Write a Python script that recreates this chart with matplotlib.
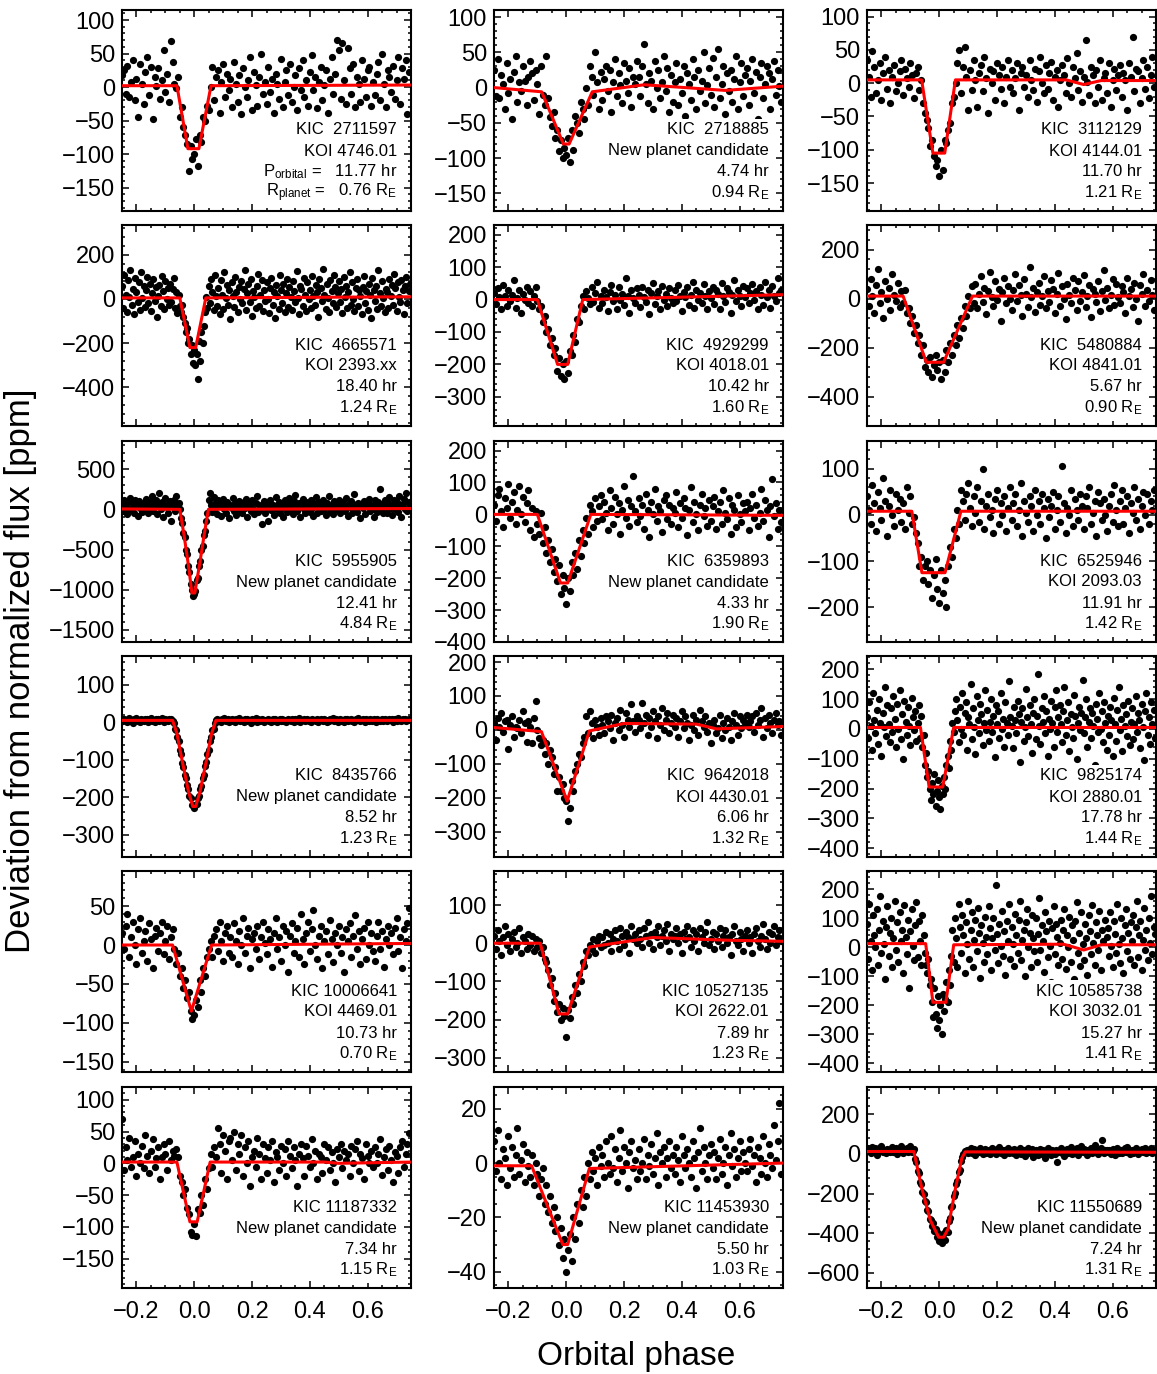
import numpy as np
import matplotlib.pyplot as plt
from matplotlib.ticker import MultipleLocator, AutoMinorLocator

plt.rcParams['font.family'] = ['Liberation Sans', 'DejaVu Sans']
plt.rcParams['mathtext.fontset'] = 'custom'
plt.rcParams['mathtext.rm'] = 'Liberation Sans'
plt.rcParams['mathtext.it'] = 'Liberation Sans:italic'
plt.rcParams['mathtext.bf'] = 'Liberation Sans:bold'

# ---- labels for the 18 targets (row by row) ----
kic = ['2711597', '2718885', '3112129', '4665571', '4929299', '5480884',
       '5955905', '6359893', '6525946', '8435766', '9642018', '9825174',
       '10006641', '10527135', '10585738', '11187332', '11453930', '11550689']
koi = ['KOI 4746.01', 'New planet candidate', 'KOI 4144.01', 'KOI 2393.xx', 'KOI 4018.01', 'KOI 4841.01',
       'New planet candidate', 'New planet candidate', 'KOI 2093.03', 'New planet candidate', 'KOI 4430.01', 'KOI 2880.01',
       'KOI 4469.01', 'KOI 2622.01', 'KOI 3032.01', 'New planet candidate', 'New planet candidate', 'New planet candidate']
period_hr = ['11.77', '4.74', '11.70', '18.40', '10.42', '5.67', '12.41', '4.33', '11.91',
             '8.52', '6.06', '17.78', '10.73', '7.89', '15.27', '7.34', '5.50', '7.24']
radius_re = ['0.76', '0.94', '1.21', '1.24', '1.60', '0.90', '4.84', '1.90', '1.42',
             '1.23', '1.32', '1.44', '0.70', '1.23', '1.41', '1.15', '1.03', '1.31']

# ---- folded, binned flux [ppm]; evenly spaced in phase from -0.25 to 0.75 ----
f01 = [18, 25, -10, 32, -15, 8, 40, -20, 12, -45, 35, 5, -25, 22, 45, -12, 30, -48, 15, 2,
       28, -18, 10, 55, -8, 20, -22, 68, 38, 5, -2, 15, -44, -30, -60, -72, -85, -125, -88, -108,
       -100, -78, -118, -72, -82, -45, -50, -28, -35, 0, 30, -20, 15, 25, -38, 8, 35, -15, 20, -5,
       12, -30, 38, 5, -22, 18, -40, 28, 0, -15, 10, 45, -35, 22, 3, -28, 15, 50, -10, 8,
       -25, 30, -8, 12, -38, 20, 5, -18, 42, -30, 8, 25, -12, 35, -22, 0, 18, -35, 28, -5,
       40, -15, 10, -28, 22, 48, -5, 15, -32, 8, 30, -20, 3, 25, -38, 12, 45, -10, 20, 70,
       55, -18, 65, 10, -25, 58, 28, -10, 35, -30, 15, 5, -22, 40, 12, -15, 25, 30, -28, 8,
       -12, 20, 38, -20, 50, 5, -30, 25, 15, -8, 32, -18, 10, 45, -25, 28, 12, 40, -40, 22]
f02 = [25, -12, 40, -15, 18, 5, -30, 35, -8, 12, -45, 22, 45, -20, 8, -5, 30, 10, -25, 15,
       38, 20, -18, 25, 5, -38, 30, -10, -25, 45, -15, -42, -55, -35, -72, -60, -90, -75, -100, -85,
       -95, -72, -105, -60, -88, -40, -50, -65, -20, -30, -45, 0, -25, 30, 15, -10, 50, 8, -30, 22,
       -18, 12, 30, -5, 25, -35, 8, 40, -12, 20, 3, -22, 35, 10, -8, 28, -28, 15, 5, 38,
       15, -12, 30, 62, 5, -22, 20, 10, -30, 38, 0, 25, -15, 8, 45, -5, 28, -35, 18, -20,
       8, 35, -25, 12, -8, 30, -40, 20, 5, -18, 40, 15, -30, 25, -5, 10, 50, -22, 3, 28,
       -10, 42, -28, 15, 55, -15, 5, 30, -38, 20, -5, 25, -20, 12, 45, -30, 8, 35, -12, 18,
       28, -25, 10, 40, -8, 22, -45, 15, 35, -15, 5, 30, 20, -30, 12, 38, -10, 25, 2, -20]
f03 = [35, 10, -20, 48, 25, -15, 5, 30, -25, 15, 40, -8, 20, -30, 10, 28, -12, 0, 18, 35,
       -18, 22, 8, -5, 30, 12, -22, 15, 25, -10, 5, -30, -45, -55, -68, -95, -85, -110, -125, -115,
       -140, -100, -130, -85, -90, -70, -60, -30, -20, 0, 30, 50, -15, 25, 55, 10, -40, 20, -10, 35,
       5, -35, 15, 28, -12, 40, 8, -45, 22, 0, 18, -25, 30, 12, -8, 25, -30, 10, 35, -5,
       20, -15, 8, 30, -40, 15, 25, -5, 12, -20, 35, 5, -10, 22, -28, 18, 40, 0, -15, 28,
       -8, 15, 32, -25, 10, 20, -35, 5, 28, 12, -15, 38, 0, -20, 25, 8, 45, -10, 18, -28,
       10, 65, 2, -18, 25, 12, -30, 20, -5, 35, -25, 8, 15, -15, 30, -35, 5, 22, -10, 12,
       28, -20, 15, 5, -40, 30, 10, 70, -12, 22, 18, -30, 8, 35, -8, 25, -22, 12, 40, -5]
f04 = [60, -40, 110, 20, -60, 85, 10, 130, -25, 45, -70, 95, 30, -15, 75, -50, 120, 5, 60, -35,
       40, 100, -20, 70, -55, 25, 90, -10, 55, -80, 15, 65, -30, 105, 35, -45, 80, 0, 50, -25,
       70, -15, 45, 95, -40, 30, -65, 20, -30, -60, -25, -80, -110, -150, -130, -200, -180, -250, -210, -290,
       -230, -300, -250, -360, -190, -280, -150, -200, -120, -60, 10, -40, 60, -20, 90, 30, -50, 110, 15, -30,
       50, -70, 85, 20, -45, 120, 5, 65, -25, 40, -90, 75, 15, -35, 100, 30, -60, 55, 0, 80,
       -20, 45, 130, -50, 25, 70, -15, 90, -75, 35, 10, -40, 60, 115, -30, 20, 85, -55, 40, -10,
       75, 0, -65, 50, 95, -25, 30, -85, 65, 15, -45, 110, 40, -20, 70, -60, 25, 90, -35, 55,
       10, -50, 80, 35, -15, 125, 5, -70, 60, 45, -30, 95, 20, -55, 75, 0, 40, -40, 105, 15,
       -25, 65, 30, -80, 90, 50, -10, 135, 20, -45, 70, 5, -60, 85, 35, -20, 110, 55, -35, 25,
       80, -15, 45, -65, 100, 10, 60, -40, 30, 120, -25, 75, 0, -55, 50, 90, -30, 40, 15, -70,
       55, 105, -20, 35, -50, 70, 20, -85, 95, 40, -10, 60, -45, 130, 25, -30, 80, 5, -60, 45,
       30, -40, 90, 15, 65, -25, 115, 50, -55, 75, 10, -15, 85, 40, -70, 60, 100, -20, 35, 70]
f05 = [20, -15, 35, 8, -30, 45, 10, -20, 28, -5, 15, 60, -25, 5, 30, -40, 18, 0, 40, -10,
       25, -20, 10, 38, -5, -30, -20, -70, -50, -100, -90, -140, -120, -170, -150, -220, -180, -235, -200, -245,
       -190, -225, -160, -170, -110, -130, -60, -70, -20, 10, -30, 25, 5, -15, 40, -8, 20, 55, -25, 12,
       -10, 30, 8, -35, 22, 45, -5, 15, -28, 38, 0, 18, -18, 65, 10, -40, 28, 5, -12, 35,
       15, -22, 40, 8, -8, 30, -45, 20, 50, -15, 10, 25, -30, 42, 0, 18, -20, 35, 5, -10,
       28, -5, 45, 12, -35, 22, 8, 38, -18, 15, 55, -25, 30, 0, 20, -12, 48, 10, -30, 25,
       5, 40, -15, 30, 18, -28, 50, 12, -8, 35, 22, -40, 15, 60, -5, 28, 10, -20, 42, 8,
       35, -12, 20, 48, 0, 25, -30, 38, 15, -18, 55, 8, 30, -25, 42, 12, -5, 65, 20, 30]
f06 = [40, -30, 80, 10, -60, 55, 120, -20, 25, -80, 70, 0, 45, -45, 100, 15, -10, 65, -35, 30,
       -20, 35, -60, -40, -100, -70, -140, -110, -180, -150, -230, -190, -280, -250, -300, -240, -320, -270, -230, -290,
       -260, -330, -250, -300, -210, -260, -180, -230, -150, -190, -110, -160, -80, -120, -30, -70, 10, -40, 50, -20,
       60, -40, 20, 90, -15, 45, -65, 30, 110, 5, -30, 70, -5, 40, -90, 25, 85, -20, 50, 0,
       -45, 35, 100, -10, 55, 15, -70, 80, 20, -35, 130, 5, 45, -55, 25, 65, -25, 10, 90, -40,
       30, -15, 75, 40, -60, 20, 105, -30, 50, 0, -85, 60, 15, -20, 85, 35, -45, 70, -10, 25,
       95, -35, 10, 55, -75, 40, 20, -15, 70, -50, 30, 115, -5, 45, -40, 15, 80, -25, 60, 5,
       -20, 50, 25, -60, 85, 10, 40, -35, 65, 0, -90, 55, 20, 100, -30, 35, -10, 75, 15, -45]
f07 = [60, -20, 110, 30, -60, 90, 10, 140, -10, 70, -40, 120, 40, -80, 100, 20, 50, -30, 80, 0,
       130, 40, -50, 90, 20, 160, -20, 70, 110, -60, 50, 200, 10, 90, -100, 60, 140, 30, -40, 80,
       100, -150, 60, 120, -20, 170, 40, 80, 10, -110, -170, -300, -350, -500, -560, -700, -780, -930, -1000, -1080,
       -1050, -1010, -880, -850, -700, -640, -500, -460, -320, -270, -150, -40, 120, 200, 60, -30, 150, 20, 90, -60,
       110, 40, -80, 70, 130, 0, -40, 90, 50, -110, 60, 20, 140, -20, 80, -70, 30, 100, -10, 60,
       -50, 90, 20, 130, -90, 40, 70, -20, 110, 10, -60, 80, 170, -30, 50, 0, -180, 60, 100, -40,
       30, -150, 80, 120, -10, 60, -70, 40, 150, 0, 90, -40, 70, 20, -100, 110, 30, -30, 80, 140,
       10, 60, -60, 100, 180, -20, 40, 80, -90, 50, 130, 0, -50, 90, 30, 60, -30, 110, 20, -80,
       70, 150, -40, 30, 90, -20, 60, 120, 0, -70, 80, 40, 170, -30, 50, -60, 100, 10, 70, -10,
       120, -50, 40, 90, 10, -20, 140, 60, -80, 30, 100, -40, 70, 190, 20, -30, 80, 50, -110, 60,
       20, 100, -60, 80, 40, 130, -20, 60, 10, -90, 110, 50, -30, 90, 250, 0, 70, -50, 120, 30,
       -40, 80, 150, 20, -70, 60, 110, 0, 90, -30, 160, 40, -100, 70, 130, 10, 200, -20, 90, 50]
f08 = [30, -20, 60, 80, 10, -40, 50, 20, 95, -10, 40, 70, -30, 15, 90, 0, 55, -25, 35, 75,
       -50, 20, -70, 10, -30, -60, 5, -90, -40, -120, -80, -150, -110, -180, -140, -210, -160, -250, -190, -230,
       -280, -200, -240, -150, -190, -120, -170, -80, -130, -50, -90, -10, -60, 30, 10, -40, 50, -20, 25, 60,
       -15, 40, 5, -50, 75, 20, -30, 55, 0, 35, -60, 15, 90, -10, 45, -35, 25, 120, 10, -25,
       50, -5, 30, -45, 65, 15, -70, 40, 0, 80, -20, 25, 10, -55, 45, 60, -15, 30, -30, 20,
       5, 70, -40, 35, -10, 50, 20, -65, 15, 85, -25, 40, 0, -50, 30, 65, -5, 20, -35, 45,
       -20, 25, 55, -45, 10, 40, -30, 75, 5, -15, 50, -60, 30, 15, -40, 60, 0, -25, 35, 10,
       40, -50, 20, 65, -10, 30, -35, 5, 80, -20, 45, 15, -70, 25, 110, -5, 35, -45, 15, -25]
f09 = [40, 10, -20, 65, 25, -35, 50, 15, -10, 80, 30, -45, 20, 55, 0, -25, 45, 10, 35, -15,
       25, -30, 60, 5, 40, -20, -5, -40, -60, -110, -90, -140, -110, -100, -150, -120, -180, -130, -95, -160,
       -190, -120, -170, -140, -200, -110, -70, -90, -30, -50, 10, -20, 55, 30, -10, 45, 70, 15, -25, 40,
       5, 60, -15, 30, 100, -30, 20, 45, -5, 10, -40, 35, 55, -20, 25, 0, 40, -35, 15, 60,
       -10, 25, 45, -25, 10, 70, -45, 30, 5, -15, 40, 20, -35, 55, 0, 30, -20, 45, 15, -50,
       35, -5, 20, 50, -30, 10, 40, -15, 105, 25, -40, 15, 0, 55, -25, 35, 10, -10, 45, 20,
       -30, 40, 15, 60, -20, 5, 30, -45, 50, 25, -10, 35, 0, -35, 20, 45, -15, 65, 10, -25,
       30, 55, -20, 15, 40, -40, 25, 5, 60, -10, 35, -30, 20, 50, 0, 45, -20, 30, 10, 55]
f10 = [8, 3, 10, 5, 0, 7, 12, 4, 6, -2, 9, 5, 11, 3, 7, 1, 8, 6, 4, 10,
       5, 9, 2, 7, 12, 4, 6, 0, 8, 5, 10, 3, 7, 11, 5, 2, 9, 6, 4, 8,
       6, 9, 4, -3, -18, -22, -40, -50, -74, -85, -108, -120, -142, -150, -168, -178, -197, -203, -220, -221,
       -230, -222, -219, -203, -197, -178, -170, -149, -140, -118, -107, -86, -73, -50, -40, -22, -17, -2, 5, 8,
       4, 7, 2, 9, 5, 11, 3, 6, 8, 0, 7, 10, 4, 6, 2, 9, 5, 12, 3, 7,
       6, 1, 8, 4, 10, 5, 7, -1, 9, 3, 6, 11, 2, 8, 5, 4, 9, 6, 0, 7,
       5, 10, 3, 7, 2, 8, 4, 9, 6, 1, 5, 8, 3, 10, 4, 7, 2, 6, 9, 5,
       3, 8, 6, 0, 9, 4, 7, 11, 2, 6, 5, 8, 3, 7, 10, 4, 6, 1, 8, 5,
       7, 4, 9, 2, 6, 10, 5, 3, 8, 6, 1, 7, 4, 9, 5, 11, 3, 6, 8, 2,
       6, 9, 4, 7, 1, 8, 5, 10, 3, 6, 9, 4, 7, 2, 8, 5, 12, 6, 3, 7,
       9, 5, 2, 8, 6, 4, 10, 7, 3, 8, 5, 1, 9, 6, 4, 7, 10, 3, 8, 5,
       4, 7, 10, 5, 8, 2, 6, 9, 4, 11, 7, 5, 3, 8, 6, 9, 4, 7, 10, 6]
f11 = [20, -30, 35, 10, 50, -5, 25, 30, -55, 15, 40, -20, 10, 5, 30, -10, 55, 20, -35, 25,
       10, -40, 35, 85, 0, -25, -45, -30, -70, -40, -100, -60, -80, -130, -110, -180, -140, -180, -160, -200,
       -210, -270, -230, -150, -180, -120, -100, -70, -80, -40, -20, 40, -10, 55, 20, -25, 30, 10, -15, 35,
       15, -10, 40, 25, 5, 45, -30, 20, 35, 0, 60, 15, -20, 50, 30, 10, 75, 25, -5, 40,
       30, 5, 80, 20, 45, -15, 35, 10, 55, 25, -25, 40, 15, 65, 0, 30, 50, -10, 20, 45,
       10, 35, -20, 25, 55, 5, 40, 20, -30, 15, 45, 0, 30, -15, 60, 25, 10, 40, -5, 20,
       -40, 15, 30, -10, 5, 45, -25, 20, 0, 35, 10, -30, 25, 50, 15, -15, 40, 5, 30, 20,
       45, 10, 25, 40, -5, 50, 15, 30, 65, -20, 35, 5, 45, 20, -10, 30, 50, 15, 25, -15]
f12 = [40, -30, 90, 10, -70, 120, 30, -15, 65, -50, 100, 20, -90, 55, 5, 140, -25, 80, 15, -45,
       70, -10, 110, 35, -60, 85, 0, 130, -35, 50, -100, 95, 25, -20, 75, 10, -55, 105, 40, -5,
       60, -40, 20, 80, -30, 45, -60, -20, -120, -80, -160, -140, -200, -240, -180, -220, -150, -260, -210, -170,
       -230, -270, -190, -220, -160, -200, -120, -90, -130, -40, -70, 20, -10, 60, 100, 30, -45, 75, 0, 120,
       -20, 55, 90, -70, 40, 15, 150, -35, 70, 5, -85, 110, 30, -15, 85, 50, -55, 20, 130, -5,
       65, -40, 25, 100, -10, 45, -95, 80, 15, 60, -30, 120, 0, 35, -60, 90, 20, -20, 160, 40,
       10, -65, 75, 30, -15, 95, 50, -110, 25, 70, -40, 5, 135, 40, -25, 80, 15, -80, 55, 100,
       -35, 45, 185, 10, -50, 70, 25, 110, -15, 60, -90, 35, 0, 95, 20, -60, 75, 130, -10, 40,
       80, 15, -45, 60, 140, -20, 30, 90, -75, 50, 5, -30, 115, 45, -100, 20, 75, -5, 55, 165,
       -15, 40, 100, -60, 25, 70, -30, 55, 10, -120, 85, 35, -10, 120, 0, 60, -45, 90, 20, -70,
       45, -20, 75, 30, -90, 105, 15, -40, 65, 140, -5, 35, -75, 80, 10, 50, -25, 95, -55, 25,
       70, -35, 15, 110, -10, 55, 30, -65, 85, 5, -105, 60, 120, -20, 40, -50, 90, 15, 65, -30]
f13 = [15, -5, 25, 40, -15, 10, 30, 0, -25, 20, 35, -10, 5, 18, -20, 28, 8, -30, 12, 22,
       -8, 15, 30, -12, 5, 25, -18, 10, 20, -5, -25, -10, -40, -30, -55, -45, -68, -60, -85, -95,
       -90, -70, -80, -45, -60, -30, -40, -15, -5, 5, -15, 12, 20, -8, 30, 5, -20, 15, 25, -10,
       10, -15, 28, 5, -25, 18, 0, 35, -10, 12, 22, -30, 8, 15, -5, 25, -18, 10, 30, 2,
       -12, 20, 8, -28, 15, 35, -5, 10, -20, 25, 0, 18, -35, 12, 28, -10, 5, 22, -15, 40,
       8, -25, 15, 30, -8, 20, 45, 0, -18, 12, 25, -30, 5, 18, -12, 32, 8, -22, 15, 0,
       25, -10, 10, -35, 20, 5, 28, -15, 12, 38, -5, 18, -25, 8, 22, -18, 30, 0, 15, -8,
       -20, 12, 30, -5, 18, -28, 8, 25, 0, 15, -12, 22, 35, -8, 10, -30, 20, 5, 28, 48]
f14 = [20, -15, 35, 5, -30, 15, 45, -5, 25, -20, 10, 30, -10, 0, 40, -25, 15, 5, -15, 25,
       -5, 20, -20, 10, -10, 5, -25, -10, -40, -50, -70, -110, -90, -150, -130, -180, -160, -200, -170, -190,
       -245, -175, -195, -140, -160, -110, -130, -80, -100, -50, -60, -20, -30, -5, -15, 10, -25, 5, 20, -10,
       15, -5, 30, 0, 25, -20, 10, 35, 5, -15, 40, 20, -5, 30, 15, -25, 45, 10, 25, 0,
       35, 10, -10, 40, 20, 55, 0, 25, -15, 30, 15, 45, -5, 20, 35, 5, 50, -20, 25, 10,
       20, 40, 0, 25, -25, 30, 10, 45, 15, -10, 35, 5, 25, -20, 40, 15, 0, 30, 55, -5,
       10, 30, -15, 25, 5, 40, -10, 20, 35, 0, 15, -30, 25, 45, 5, -5, 30, 10, -20, 20,
       35, 0, 15, -25, 25, 40, 5, -10, 20, 50, 10, -15, 30, 0, 25, 45, -5, 15, 35, 5]
f15 = [80, -40, 150, 20, -80, 110, 40, 0, 130, -60, 60, 175, -20, 90, 10, -110, 70, 140, -30, 50,
       100, -70, 30, 160, -10, 85, -50, 120, 20, 60, -90, 145, 35, -25, 95, -140, 55, 130, 5, -45,
       75, 155, -35, 90, 20, -60, 110, 40, -20, -60, -90, -40, -130, -110, -190, -240, -140, -230, -280, -170,
       -250, -200, -300, -160, -220, -180, -120, -190, -80, -130, -30, 60, -50, 100, 30, -70, 150, 70, -20, 110,
       40, -90, 85, 10, 160, -40, 60, 120, -70, 25, 95, -15, 135, 50, -105, 75, 15, -50, 105, 35,
       -25, 140, 65, -80, 30, 100, -10, 215, 45, -55, 80, 5, 125, -30, 55, -95, 90, 20, 150, -40,
       70, 10, -65, 115, 40, -20, 95, 160, -45, 25, 60, -100, 85, 130, 0, 50, -70, 110, 30, -15,
       100, -50, 45, 170, -10, 75, 20, -85, 120, 55, -35, 90, 5, -120, 65, 140, -25, 80, 35, -60,
       15, 95, -40, 60, 130, -75, 40, 0, 105, -50, 75, 25, -110, 90, 155, -20, 50, -65, 120, 10,
       -45, 80, 30, -95, 110, 55, -25, 145, 15, -60, 85, 40, -10, 125, -80, 60, 20, -130, 95, 35,
       65, -30, 120, 5, -70, 90, 45, -20, 150, 10, -55, 100, 30, -90, 75, 130, -15, 50, -40, 85,
       20, 110, -60, 70, 160, -35, 40, 90, -80, 25, 135, -10, 60, -45, 100, 15, 175, -25, 70, 45]
f16 = [70, -10, 25, 5, 40, -5, 10, 35, -20, 15, 0, 28, -8, 45, 12, -15, 20, 38, -5, 8,
       25, -25, 10, 30, 15, -10, 35, 5, 20, 12, 22, 10, -20, -30, -50, -40, -70, -80, -108, -112,
       -95, -115, -72, -78, -50, -65, -25, -40, -8, 15, -5, 25, 10, 55, 30, -15, 45, 20, -25, 35,
       40, 5, 50, -10, 30, 15, 45, -20, 25, 0, 35, -35, 10, 20, -5, 40, 15, -25, 30, 8,
       -15, 25, 5, 35, -30, 18, 10, -10, 28, 0, 22, -20, 35, 12, -8, 25, 5, -35, 15, 30,
       8, -20, 28, 12, -5, 38, 0, 20, -25, 15, 10, -15, 30, 5, 25, -10, 18, 0, -30, 22,
       10, 30, -8, 20, 5, 15, -20, 28, 0, 22, 35, -12, 15, 8, -25, 30, 12, 0, 20, -5,
       25, 0, 15, 38, -18, 10, 22, -10, 28, 5, -30, 18, 12, -15, 25, 35, -5, 15, 30, 48]
f17 = [8, -3, 12, 0, -6, 5, 2, -8, 10, -2, 6, -5, 3, 13, -4, 1, 7, -7, 4, -1,
       -5, 3, -8, 0, -4, -12, -6, -2, -15, -8, -18, -12, -22, -16, -25, -20, -30, -24, -35, -28,
       -40, -32, -26, -36, -20, -28, -15, -22, -10, -16, -5, -12, 0, -6, 4, -3, 2, -8, 6, -1,
       3, -5, 8, 0, -4, 10, -2, 5, -7, 2, 12, -3, 6, 0, -9, 4, 8, -2, 1, -6,
       5, -3, 0, 9, -6, 3, -1, 7, -4, 2, 11, -8, 4, 0, 6, -5, 2, 8, -2, 3,
       -4, 6, 1, -7, 10, 3, -2, 5, 0, -5, 8, 2, -9, 4, 13, -3, 6, 0, -6, 3,
       7, -2, 4, -6, 2, 9, -4, 0, 6, -8, 3, 11, -1, 5, -5, 2, 8, -3, 4, 0,
       -3, 5, 9, -1, 3, -7, 6, 2, -4, 10, 0, -5, 7, 3, -2, 14, 1, 8, 22, -4]
f18 = [30, 15, 25, 5, 35, 20, 10, 28, -5, 18, 30, 12, 40, 8, 22, 15, 3, 25, 18, 10,
       20, 35, 8, 15, 28, 0, 22, 12, 38, 18, 5, 25, 15, 30, 10, 20, 42, 8, 16, 25,
       -25, -40, -85, -95, -140, -150, -190, -200, -240, -245, -285, -290, -330, -335, -365, -350, -390, -380, -420, -400,
       -440, -410, -450, -425, -400, -435, -385, -395, -340, -325, -270, -265, -210, -195, -150, -135, -90, -80, -35, -15,
       0, 15, 8, 22, 5, 18, 28, 2, 12, 25, -5, 15, 20, 8, 30, 10, 0, 18, 25, 5,
       12, 22, -2, 15, 28, 8, 18, 0, 25, 12, 35, 5, 15, 20, -8, 22, 10, 30, 5, 15,
       18, 2, 25, 10, -5, 20, 12, 28, 0, 15, 22, -10, 8, 18, 30, 5, 15, 25, -15, 12,
       20, 8, -5, 15, 25, 0, 18, 10, -20, 12, 28, 5, 15, -8, 22, 10, 0, 18, -40, 8,
       15, 28, 2, 20, -10, 12, 25, 5, 18, 35, 0, 15, 22, 8, 30, -5, 12, 20, 40, 10,
       25, 10, 18, -5, 22, 15, 30, 2, 12, 45, 8, 20, 0, 15, 28, 70, 12, 5, 22, 18,
       8, 20, 15, 0, 25, 12, -8, 18, 30, 5, 15, 22, 2, 12, 28, 8, 35, 18, 0, 15,
       22, 5, 15, 28, 10, 0, 20, 12, 25, 8, 18, 30, 2, 15, 22, 10, 28, 5, 18, 12]

# ---- transit model: (phase, flux) vertices ----
m01 = ([-0.25, -0.06, -0.022, 0.016, 0.058, 0.75], [2, 2, -92, -92, 2, 3])
m02 = ([-0.25, -0.085, -0.01, 0.01, 0.09, 0.27, 0.55, 0.75], [0, -6, -80, -80, -6, 4, -4, 2])
m03 = ([-0.25, -0.061, -0.022, 0.019, 0.056, 0.44, 0.5, 0.56, 0.75], [5, 5, -105, -105, 5, 5, -2, 4, 4])
m04 = ([-0.25, -0.05, -0.015, 0.005, 0.04, 0.75], [5, 5, -220, -220, 5, 10])
m05 = ([-0.25, -0.1, -0.03, 0.005, 0.057, 0.75], [0, 0, -200, -200, 0, 15])
m06 = ([-0.25, -0.125, -0.045, 0.015, 0.115, 0.75], [10, 10, -260, -260, 10, 10])
m07 = ([-0.25, -0.05, -0.035, -0.02, -0.008, 0.002, 0.02, 0.035, 0.049, 0.75],
       [5, 0, -330, -700, -1040, -1040, -650, -300, 0, 10])
m08 = ([-0.25, -0.1, -0.02, 0.005, 0.085, 0.75], [0, 0, -215, -215, 0, -3])
m09 = ([-0.25, -0.095, -0.06, 0.02, 0.075, 0.75], [8, 8, -125, -125, 8, 8])
m10 = ([-0.25, -0.075, -0.06, -0.04, -0.02, -0.005, 0.005, 0.02, 0.04, 0.06, 0.075, 0.75],
       [5, 5, -30, -110, -185, -225, -225, -185, -110, -30, 5, 5])
m11 = ([-0.25, -0.086, 0.003, 0.08, 0.2, 0.45, 0.52, 0.75], [7, -5, -210, -3, 19, 17, 3, 10])
m12 = ([-0.25, -0.065, -0.035, 0.012, 0.05, 0.75], [5, 5, -195, -195, 5, 5])
m13 = ([-0.25, -0.075, -0.01, 0.06, 0.75], [0, 0, -85, 0, 2])
m14 = ([-0.25, -0.09, -0.025, 0.005, 0.08, 0.3, 0.55, 0.75], [0, 0, -185, -185, -10, 15, 8, 5])
m15 = ([-0.25, -0.047, -0.022, 0.023, 0.05, 0.43, 0.5, 0.56, 0.75], [12, 12, -190, -190, 8, 10, -10, 8, 8])
m16 = ([-0.25, -0.06, -0.015, 0.01, 0.055, 0.45, 0.5, 0.75], [2, 2, -92, -92, 2, 2, 0, 2])
m17 = ([-0.25, -0.12, -0.012, 0.005, 0.08, 0.75], [-1, -1, -30, -30, -2, 0])
m18 = ([-0.25, -0.088, -0.059, -0.031, -0.002, 0.015, 0.03, 0.055, 0.078, 0.09, 0.75],
       [12, 12, -182, -334, -420, -420, -380, -182, -22, 10, 8])

fluxes = [f01, f02, f03, f04, f05, f06, f07, f08, f09, f10, f11, f12, f13, f14, f15, f16, f17, f18]
models = [m01, m02, m03, m04, m05, m06, m07, m08, m09, m10, m11, m12, m13, m14, m15, m16, m17, m18]

# axis ranges and major tick step for each panel
ylims = [(-185, 115), (-175, 110), (-192, 110),
         (-575, 335), (-390, 230), (-520, 300),
         (-1650, 850), (-400, 230), (-275, 160),
         (-360, 177), (-375, 218), (-430, 245),
         (-163, 95), (-337, 189), (-430, 262),
         (-196, 120), (-46, 28), (-676, 337)]
ysteps = [50, 50, 50, 200, 100, 200, 500, 100, 100,
          100, 100, 100, 50, 100, 100, 50, 20, 200]

W, H = 1157, 1374
fig = plt.figure(figsize=(W / 100, H / 100), dpi=100)

col_left = [122, 494, 867]
row_top = [10, 225, 441, 656, 871, 1087]
pw, ph = 289, 201

for k in range(18):
    r, c = divmod(k, 3)
    ax = fig.add_axes([col_left[c] / W, 1 - (row_top[r] + ph) / H, pw / W, ph / H])

    flux = np.array(fluxes[k])
    phase = np.linspace(-0.25, 0.75, len(flux), endpoint=False)
    ax.plot(phase, flux, 'o', color='black', ms=5.2, mew=0, zorder=2)
    ax.plot(models[k][0], models[k][1], color='#ff0000', lw=2.2, zorder=3)

    ax.set_xlim(-0.25, 0.75)
    ax.set_ylim(*ylims[k])
    ax.xaxis.set_major_locator(MultipleLocator(0.2))
    ax.xaxis.set_minor_locator(MultipleLocator(0.05))
    ax.yaxis.set_major_locator(MultipleLocator(ysteps[k]))
    ax.yaxis.set_minor_locator(AutoMinorLocator(4 if ysteps[k] == 20 else 5))
    ax.tick_params(which='both', direction='in', top=True, right=True, width=1.1)
    ax.tick_params(which='major', length=5, labelsize=17, pad=5)
    ax.tick_params(which='minor', length=2.5)
    ax.tick_params(axis='x', pad=9)
    for s in ax.spines.values():
        s.set_linewidth(1.5)
    if r < 5:
        ax.set_xticklabels([])

    # target information, bottom right
    name = ('KIC  ' if len(kic[k]) == 7 else 'KIC ') + kic[k]
    if k == 0:
        l3 = r'P$_{\rm orbital}$ =   ' + period_hr[k] + ' hr'
        l4 = r'R$_{\rm planet}$ =   ' + radius_re[k] + r' R$_{\rm E}$'
    else:
        l3 = period_hr[k] + ' hr'
        l4 = radius_re[k] + r' R$_{\rm E}$'
    lines = [name, koi[k], l3, l4]
    for j, txt in enumerate(lines):
        dy = (81 - 21 * j) / ph
        ax.text(1 - 14 / pw, dy, txt, transform=ax.transAxes, ha='right', va='center',
                fontsize=12, zorder=4,
                bbox=dict(facecolor='white', edgecolor='none', pad=2.5))

fig.text(21 / W, 1 - 671 / H, 'Deviation from normalized flux [ppm]', rotation=90,
         ha='center', va='center', fontsize=25)
fig.text(636 / W, 1 - 1356 / H, 'Orbital phase', ha='center', va='center', fontsize=24)

fig.savefig('out.png', dpi=100)
